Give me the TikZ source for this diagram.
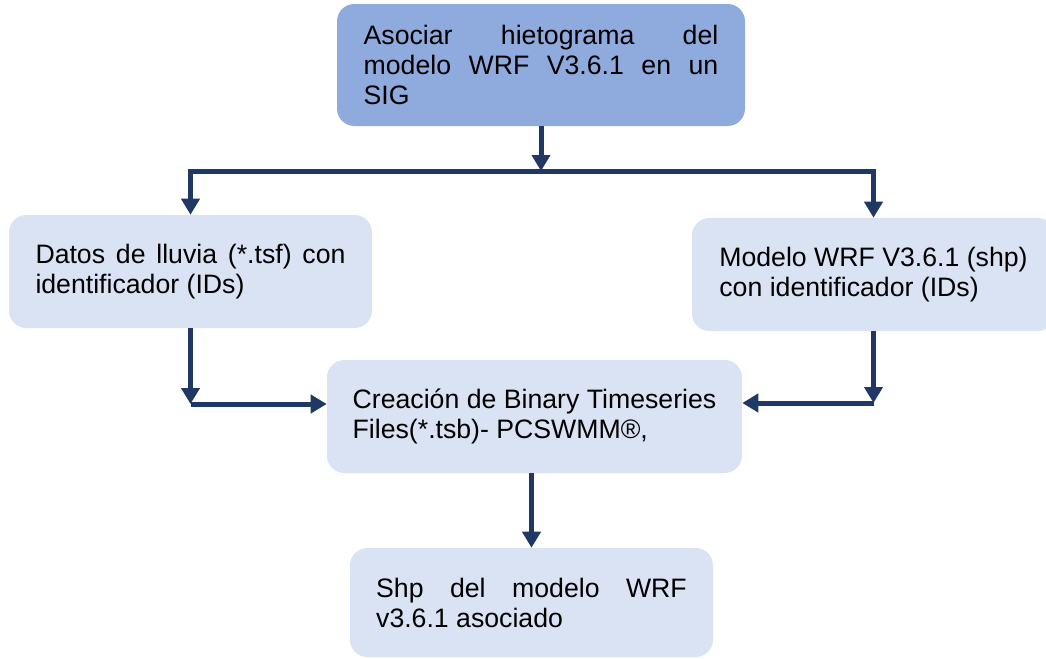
\documentclass[tikz,border=0pt]{standalone}
\usepackage{fontspec}
\setmainfont{Liberation Sans}
\usetikzlibrary{arrows.meta}
\definecolor{azulfuerte}{HTML}{8FAADC}
\definecolor{azulclaro}{HTML}{DAE3F3}
\definecolor{azulflecha}{HTML}{1F3864}
\tolerance=10000
\hbadness=10000
\hyphenpenalty=10000
\exhyphenpenalty=10000

\begin{document}
\begin{tikzpicture}[x=0.75pt, y=-0.75pt,
        paso/.style={fill=azulclaro, rounded corners=13pt, inner sep=0pt, font=\fontsize{20}{22.5}\selectfont, align=justify},
        flecha/.style={draw=azulflecha, line width=3.75pt, -{Triangle[width=13.5pt,length=12pt]}}]
        \useasboundingbox (0,0) rectangle (1046,658);

        \node[paso, fill=azulfuerte, minimum width=306pt, minimum height=91.5pt, text width=266pt] (asociar) at (541,65) {Asociar hietograma del modelo WRF V3.6.1 en un SIG};
        \node[paso, minimum width=272.25pt, minimum height=84.75pt, text width=232.5pt] (datos) at (190.5,271.5) {Datos de lluvia (*.tsf) con identificador (IDs)};
        \node[paso, minimum width=272.25pt, minimum height=84.75pt, align=left] (modelo) at (873.5,274.5) {Modelo WRF V3.6.1 (shp)\\con identificador (IDs)};
        \node[paso, minimum width=311.25pt, minimum height=84.75pt, align=left] (creacion) at (534.5,416.5) {Creación de Binary Timeseries\\Files(*.tsb)- PCSWMM®,};
        \node[paso, minimum width=272.25pt, minimum height=81.75pt, text width=233pt] (shp) at (531.5,602.5) {Shp del modelo WRF v3.6.1 asociado};

        \coordinate (reparto) at (541,171);
        \coordinate (esqizq) at (190.5,404);
        \coordinate (esqder) at (873.5,403);

        \draw[flecha] (asociar.south) -- (reparto);
        \draw[flecha, {Triangle[width=13.5pt,length=12pt]}-{Triangle[width=13.5pt,length=12pt]}] (datos.north) |- (reparto) -| (modelo.north);
        \draw[flecha] (datos.south) -- (esqizq);
        \draw[flecha] (esqizq) -- (esqizq -| creacion.west);
        \draw[flecha] (modelo.south) -- (esqder);
        \draw[flecha] (esqder) -- (esqder -| creacion.east);
        \draw[flecha] (creacion.south -| shp.north) -- (shp.north);
    \end{tikzpicture}
\end{document}
